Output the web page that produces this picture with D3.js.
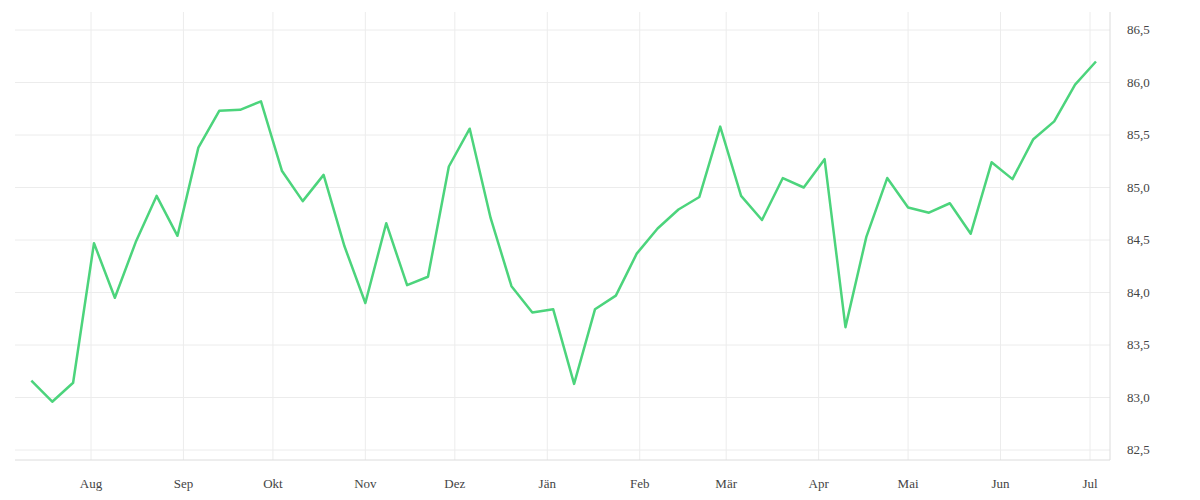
<!DOCTYPE html>
<html><head><meta charset="utf-8">
<script src="https://cdn.jsdelivr.net/npm/d3@7"></script>
<style>body{margin:0;background:#fff}svg{display:block}</style>
</head><body><svg id="c" width="1200" height="500"></svg>
<script>
const startDate = "2023-07-12";
const values = [83.16,82.96,83.14,84.47,83.95,84.48,84.92,84.54,85.38,85.73,85.74,85.82,85.16,84.87,85.12,84.44,83.90,84.66,84.07,84.15,85.20,85.56,84.71,84.06,83.81,83.84,83.13,83.84,83.97,84.37,84.61,84.79,84.91,85.58,84.92,84.69,85.09,85.00,85.27,83.67,84.53,85.09,84.81,84.76,84.85,84.56,85.24,85.08,85.46,85.63,85.98,86.20];
const monthLabels = ["Aug","Sep","Okt","Nov","Dez","Jän","Feb","Mär","Apr","Mai","Jun","Jul"];
const yTicks = [82.5,83,83.5,84,84.5,85,85.5,86,86.5];

const parse = d3.timeParse("%Y-%m-%d");
const t0 = parse(startDate);
const data = values.map((v,i)=>({d:d3.timeDay.offset(t0,i*7), v}));
const months = d3.range(12).map(i=>new Date(2023,7+i,1));

const svg = d3.select("#c");
const x = d3.scaleTime().domain([new Date(2023,7,1), new Date(2024,6,1)]).range([91,1090]);
const y = d3.scaleLinear().domain([82.5,86.5]).range([450,30]);
const L=15, R=1110, B=460, T=12;
const font = "'Liberation Serif', serif";

svg.append("g").selectAll("line").data(yTicks).join("line")
  .attr("x1",L).attr("x2",R).attr("y1",d=>y(d)).attr("y2",d=>y(d))
  .attr("stroke","#ececec");
svg.append("g").selectAll("line").data(months).join("line")
  .attr("x1",d=>x(d)).attr("x2",d=>x(d)).attr("y1",T).attr("y2",B)
  .attr("stroke","#ececec");
svg.append("line").attr("x1",L).attr("x2",R).attr("y1",B).attr("y2",B).attr("stroke","#dcdcdc");
svg.append("line").attr("x1",R).attr("x2",R).attr("y1",T).attr("y2",B).attr("stroke","#dcdcdc");

svg.append("g").selectAll("text").data(yTicks).join("text")
  .attr("x",1127).attr("y",d=>y(d)+4).attr("font-family",font).attr("font-size",13)
  .attr("fill","#444").text(d=>d.toFixed(1).replace(".",","));
svg.append("g").selectAll("text").data(months).join("text")
  .attr("x",d=>x(d)).attr("y",488).attr("text-anchor","middle").attr("font-family",font)
  .attr("font-size",13).attr("fill","#444").text((d,i)=>monthLabels[i]);

svg.append("path").datum(data)
  .attr("d",d3.line().x(d=>x(d.d)).y(d=>y(d.v)))
  .attr("fill","none").attr("stroke","#4cd47c").attr("stroke-width",2.5).attr("stroke-linejoin","round");
</script></body></html>
